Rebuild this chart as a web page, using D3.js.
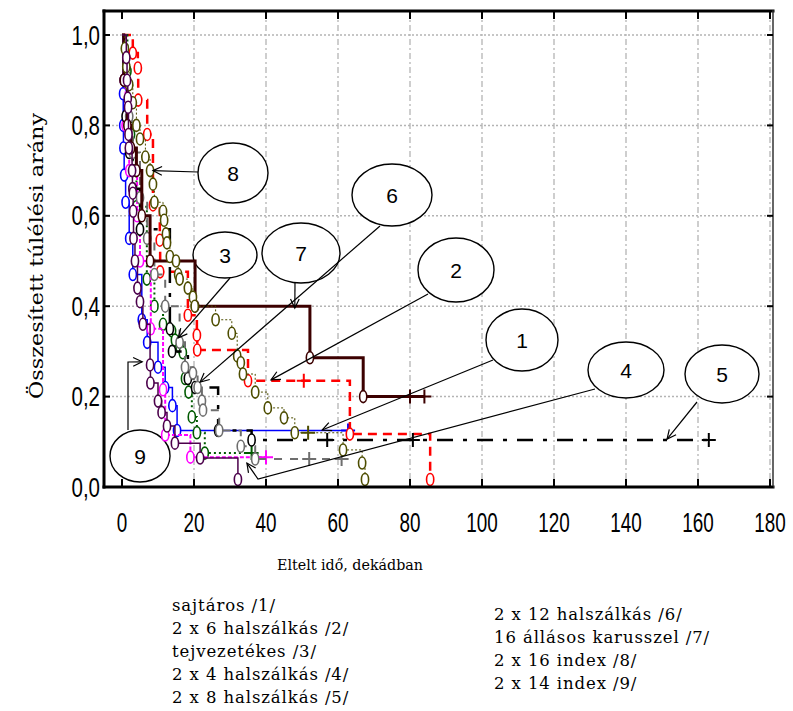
<!DOCTYPE html>
<html>
<head>
<meta charset="utf-8">
<script src="https://cdn.jsdelivr.net/npm/d3@7/dist/d3.min.js"></script>
<style>
  body { margin: 0; background: #fff; }
  svg { display: block; }
</style>
</head>
<body>
<svg id="chart" width="793" height="711"></svg>
<script>
// ---- axis ticks ----
const xTicks = [0, 20, 40, 60, 80, 100, 120, 140, 160, 180];
const yTicks = [0, 0.2, 0.4, 0.6, 0.8, 1.0];
const yTickLabels = ["0,0", "0,2", "0,4", "0,6", "0,8", "1,0"];

// ---- Kaplan–Meier series: event times, survival after each event, censored times ----
const s1Times = [0.3, 0.35, 0.4, 0.6, 1.0, 2.0, 3.0, 5.5, 7.0, 10.0, 12.0, 14.0, 15.3];
const s1Surv  = [0.87, 0.80, 0.75, 0.69, 0.63, 0.55, 0.47, 0.37, 0.32, 0.265, 0.22, 0.18, 0.125];
const s1Cens  = [62.8];

const s2Times = [3.0, 4.4, 4.5, 7.0, 8.6, 10.5, 10.6, 18.3, 20.8, 20.9, 35.0, 63.3, 85.6];
const s2Surv  = [0.96, 0.927, 0.856, 0.78, 0.624, 0.546, 0.476, 0.38, 0.336, 0.303, 0.235, 0.117, 0];
const s2Cens  = [50.5];

const s3Times = [1.5, 2.0, 2.5, 3.0, 4.0, 6.9, 9.0, 11.4, 13.9, 14.7, 16.0, 16.9, 17.5, 18.5, 19.4, 20.8, 23.0];
const s3Surv  = [0.92, 0.85, 0.78, 0.70, 0.62, 0.46, 0.40, 0.36, 0.345, 0.325, 0.31, 0.297, 0.24, 0.21, 0.155, 0.12, 0.075];
const s3Cens  = [36.0];

const s4Times = [0.5, 1.0, 2.0, 4.2, 5.0, 8.0, 11.4, 12.0, 19.0];
const s4Surv  = [0.90, 0.80, 0.70, 0.60, 0.50, 0.35, 0.215, 0.115, 0.066];
const s4Cens  = [40.0];

const s5Times = [0.5, 1.0, 2.0, 3.0, 5.0, 13.3, 13.9, 18.3, 20.3, 26.7, 36.0];
const s5Surv  = [0.90, 0.82, 0.74, 0.66, 0.57, 0.35, 0.30, 0.24, 0.22, 0.125, 0.104];
const s5Cens  = [57.0, 80.8, 163.0];

const s6Times = [1.0, 2.0, 3.0, 5.0, 7.0, 9.0, 12.0, 16.0, 17.5, 19.7, 21.0, 22.2, 22.5, 27.0, 33.0, 37.0];
const s6Surv  = [0.90, 0.82, 0.74, 0.64, 0.55, 0.47, 0.40, 0.32, 0.265, 0.252, 0.22, 0.19, 0.17, 0.125, 0.09, 0.062];
const s6Cens  = [52.0, 61.0];

const s7Times = [0.5, 1.5, 2.5, 4.0, 5.5, 7.8, 20.3, 52.2, 67.0];
const s7Surv  = [0.90, 0.80, 0.75, 0.70, 0.60, 0.50, 0.40, 0.286, 0.20];
const s7Cens  = [80.0, 84.0];

const s8Times = [0.8, 1.2, 2.0, 3.0, 4.0, 5.0, 6.5, 7.8, 8.6, 9.0, 11.4, 11.7, 12.2, 12.5, 13.3, 15.0, 15.6, 16.0, 18.3, 19.7, 20.2, 26.0, 30.5, 32.0, 33.0, 33.6, 37.0, 40.5, 45.0, 48.0, 61.4, 66.7, 67.5];
const s8Surv  = [0.97, 0.93, 0.89, 0.85, 0.80, 0.77, 0.73, 0.70, 0.67, 0.63, 0.61, 0.59, 0.56, 0.54, 0.51, 0.50, 0.47, 0.46, 0.44, 0.42, 0.40, 0.37, 0.34, 0.29, 0.275, 0.25, 0.21, 0.175, 0.153, 0.12, 0.082, 0.053, 0];
const s8Cens  = [51.7];

const s9Times = [1.2, 1.4, 1.6, 1.7, 1.8, 1.9, 2.8, 2.9, 3.0, 3.1, 3.2, 3.6, 4.3, 5.0, 5.8, 7.8, 7.9, 10.0, 11.0, 12.5, 14.7, 21.7, 32.2];
const s9Surv  = [0.95, 0.90, 0.86, 0.84, 0.78, 0.75, 0.70, 0.66, 0.65, 0.61, 0.55, 0.50, 0.44, 0.41, 0.36, 0.27, 0.23, 0.19, 0.165, 0.135, 0.097, 0.064, 0];
const s9Cens  = [];

const seriesNames = [
  "sajtáros /1/", "2 x 6 halszálkás /2/", "tejvezetékes /3/", "2 x 4 halszálkás /4/",
  "2 x 8 halszálkás /5/", "2 x 12 halszálkás /6/", "16 állásos karusszel /7/",
  "2 x 16 index /8/", "2 x 14 index /9/"
];

// line style per series
const styles = [
  { color: "#0000ff", width: 1.5, dash: null },
  { color: "#ff0000", width: 2.5, dash: "9,6" },
  { color: "#005a00", width: 2,   dash: "2,3" },
  { color: "#ff00ff", width: 2,   dash: "4,2" },
  { color: "#000000", width: 2.5, dash: "16,10,4,10" },
  { color: "#6e6e6e", width: 2,   dash: "8,8" },
  { color: "#3c0000", width: 3,   dash: null },
  { color: "#4d4d00", width: 1,   dash: "2,2" },
  { color: "#4b004b", width: 1.5, dash: null }
];

const series = [
  [s1Times, s1Surv, s1Cens], [s2Times, s2Surv, s2Cens], [s3Times, s3Surv, s3Cens],
  [s4Times, s4Surv, s4Cens], [s5Times, s5Surv, s5Cens], [s6Times, s6Surv, s6Cens],
  [s7Times, s7Surv, s7Cens], [s8Times, s8Surv, s8Cens], [s9Times, s9Surv, s9Cens]
].map(([t, s, c], i) => ({ times: t, surv: s, cens: c, name: seriesNames[i], ...styles[i] }));

// ---- callouts: label, ellipse (px), leader path ending at a point given in data units ----
const callouts = [
  { label: "8", cx: 233, cy: 173, rx: 35, ry: 30, from: [198, 172], via: [], tip: [8.6, 0.70] },
  { label: "3", cx: 225, cy: 255, rx: 32, ry: 23, from: [230, 278], via: [], tip: [15.6, 0.33] },
  { label: "7", cx: 301, cy: 253, rx: 39, ry: 30, from: [295, 283], via: [], tip: [48, 0.396] },
  { label: "6", cx: 392, cy: 195, rx: 40, ry: 31, from: [380, 226], via: [], tip: [21.7, 0.232] },
  { label: "2", cx: 456, cy: 270, rx: 38, ry: 32, from: [428, 294], via: [], tip: [41.4, 0.237] },
  { label: "1", cx: 522, cy: 340, rx: 36, ry: 31, from: [493, 360], via: [], tip: [55.6, 0.126] },
  { label: "4", cx: 626, cy: 370, rx: 38, ry: 28, from: [595, 389], via: [[258, 479]], tip: [34.7, 0.053] },
  { label: "5", cx: 722, cy: 374, rx: 37, ry: 29, from: [697, 402], via: [], tip: [151.4, 0.106] },
  { label: "9", cx: 140, cy: 456, rx: 30, ry: 26, from: [128, 430], via: [[128, 362]], tip: [5.6, 0.277] }
];

// ---- layout ----
const svg = d3.select("#chart");
const x = d3.scaleLinear().domain([0, 180]).range([122, 770]);
const y = d3.scaleLinear().domain([0, 1]).range([487, 35]);
const frame = { left: 104, right: 773, top: 11, bottom: 487 };

// grid
const grid = svg.append("g");
grid.selectAll("line.vg").data(xTicks.filter(d => d > 0)).join("line")
  .attr("x1", d => x(d)).attr("x2", d => x(d))
  .attr("y1", frame.top).attr("y2", frame.bottom)
  .attr("stroke", "#b4b4b4").attr("stroke-width", 1.3)
  .attr("stroke-dasharray", "6,3,2,3");
grid.selectAll("line.hg").data(yTicks.filter(d => d > 0)).join("line")
  .attr("x1", frame.left).attr("x2", frame.right)
  .attr("y1", d => y(d)).attr("y2", d => y(d))
  .attr("stroke", "#b4b4b4").attr("stroke-width", 1.5)
  .attr("stroke-dasharray", "2,2");

// callout ellipses sit under the curves
const co = svg.append("g");
callouts.forEach(c => {
  co.append("ellipse").attr("cx", c.cx).attr("cy", c.cy).attr("rx", c.rx).attr("ry", c.ry)
    .attr("fill", "#fff").attr("stroke", "#000").attr("stroke-width", 1.4);
  co.append("text").attr("x", c.cx).attr("y", c.cy).attr("text-anchor", "middle")
    .attr("dominant-baseline", "central")
    .attr("font-family", "Liberation Sans, Arial, sans-serif").attr("font-size", 21)
    .text(c.label);
});

// curves
const stepLine = d3.line().x(d => x(d[0])).y(d => y(d[1])).curve(d3.curveStepAfter);
const plot = svg.append("g");
const rx = 3.6, ry = 6;
series.forEach(s => {
  const pts = [[0, 1]];
  s.times.forEach((t, i) => pts.push([t, s.surv[i]]));
  const last = s.surv[s.surv.length - 1];
  const lastT = s.times[s.times.length - 1];
  const endT = d3.max([lastT, ...s.cens]);
  if (endT > lastT) pts.push([endT, last]);
  plot.append("path").attr("d", stepLine(pts)).attr("fill", "none")
    .attr("stroke", s.color).attr("stroke-width", s.width)
    .attr("stroke-dasharray", s.dash);

  // event markers
  plot.append("g").selectAll("ellipse").data(s.times.map((t, i) => [t, s.surv[i]])).join("ellipse")
    .attr("cx", d => x(d[0]))
    .attr("cy", d => Math.min(y(d[1]), y(0) - ry - 1.5))
    .attr("rx", rx).attr("ry", ry)
    .attr("fill", "#fff").attr("stroke", s.color).attr("stroke-width", 1.6);

  // censored marks
  const survAt = t => {
    let v = 1;
    s.times.forEach((tt, i) => { if (tt <= t) v = s.surv[i]; });
    return v;
  };
  plot.append("g").selectAll("path").data(s.cens).join("path")
    .attr("d", d => {
      const cx = x(d), cy = y(survAt(d));
      return `M${cx - 7},${cy}H${cx + 7}M${cx},${cy - 7}V${cy + 7}`;
    })
    .attr("stroke", s.color).attr("stroke-width", 2).attr("fill", "none");
});

// callout leader lines with open arrowheads
const lead = svg.append("g");
callouts.forEach(c => {
  const tip = [x(c.tip[0]), y(c.tip[1])];
  const pts = [c.from, ...c.via, tip];
  lead.append("path").attr("d", d3.line()(pts)).attr("fill", "none")
    .attr("stroke", "#000").attr("stroke-width", 1.2);
  const prev = pts[pts.length - 2];
  const ang = Math.atan2(tip[1] - prev[1], tip[0] - prev[0]);
  const L = 10, w = 0.45;
  const a1 = [tip[0] - L * Math.cos(ang - w), tip[1] - L * Math.sin(ang - w)];
  const a2 = [tip[0] - L * Math.cos(ang + w), tip[1] - L * Math.sin(ang + w)];
  lead.append("path").attr("d", `M${a1}L${tip}L${a2}`).attr("fill", "none")
    .attr("stroke", "#000").attr("stroke-width", 1.2);
});

// frame
const fr = svg.append("g").attr("stroke-linecap", "square");
fr.append("line").attr("x1", frame.left).attr("x2", frame.right).attr("y1", frame.top).attr("y2", frame.top)
  .attr("stroke", "#000").attr("stroke-width", 3);
fr.append("line").attr("x1", frame.left).attr("x2", frame.right).attr("y1", frame.bottom).attr("y2", frame.bottom)
  .attr("stroke", "#000").attr("stroke-width", 3);
fr.append("line").attr("x1", frame.left).attr("x2", frame.left).attr("y1", frame.top).attr("y2", frame.bottom)
  .attr("stroke", "#000").attr("stroke-width", 3);
fr.append("line").attr("x1", frame.right).attr("x2", frame.right).attr("y1", frame.top).attr("y2", frame.bottom)
  .attr("stroke", "#333").attr("stroke-width", 1.5);

// inner ticks on all sides
const tk = svg.append("g").attr("stroke", "#000").attr("stroke-width", 2);
xTicks.forEach(d => {
  tk.append("line").attr("x1", x(d)).attr("x2", x(d)).attr("y1", frame.bottom).attr("y2", frame.bottom - 8);
  tk.append("line").attr("x1", x(d)).attr("x2", x(d)).attr("y1", frame.top).attr("y2", frame.top + 8);
});
yTicks.forEach(d => {
  tk.append("line").attr("x1", frame.left).attr("x2", frame.left + 6).attr("y1", y(d)).attr("y2", y(d));
  tk.append("line").attr("x1", frame.right).attr("x2", frame.right - 6).attr("y1", y(d)).attr("y2", y(d));
});

// tick labels: tall, condensed digits
const tickFont = "'Liberation Sans', Arial, sans-serif";
const narrow = 0.7;
svg.append("g").selectAll("text").data(xTicks).join("text")
  .attr("transform", d => `translate(${x(d)},523) scale(${narrow},1)`)
  .attr("text-anchor", "middle").attr("dominant-baseline", "central")
  .attr("font-family", tickFont).attr("font-size", 27)
  .text(d => d);
svg.append("g").selectAll("text").data(yTicks).join("text")
  .attr("transform", d => `translate(100,${y(d)}) scale(${narrow + 0.06},1)`)
  .attr("text-anchor", "end").attr("dominant-baseline", "central")
  .attr("font-family", tickFont).attr("font-size", 27)
  .text((d, i) => yTickLabels[i]);

// axis titles
const serif = "'DejaVu Serif', 'Liberation Serif', serif";
svg.append("text").attr("transform", "translate(36,256) rotate(-90)")
  .attr("text-anchor", "middle").attr("dominant-baseline", "central")
  .attr("font-family", serif).attr("font-size", 18)
  .attr("textLength", 286).attr("lengthAdjust", "spacingAndGlyphs")
  .text("Összesített túlélési arány");
svg.append("text").attr("x", 350).attr("y", 565)
  .attr("text-anchor", "middle").attr("dominant-baseline", "central")
  .attr("font-family", serif).attr("font-size", 15.5)
  .attr("textLength", 146).attr("lengthAdjust", "spacingAndGlyphs")
  .text("Eltelt idő, dekádban");

// series name list below the chart
const leg = svg.append("g").attr("font-family", serif).attr("font-size", 16.5)
  .attr("letter-spacing", 0.9);
seriesNames.forEach((n, i) => {
  const col = i < 5 ? 0 : 1;
  const row = i < 5 ? i : i - 5;
  leg.append("text")
    .attr("x", col === 0 ? 172 : 494)
    .attr("y", (col === 0 ? 605 : 614) + row * 23)
    .attr("dominant-baseline", "central")
    .text(n);
});
</script>
</body>
</html>
